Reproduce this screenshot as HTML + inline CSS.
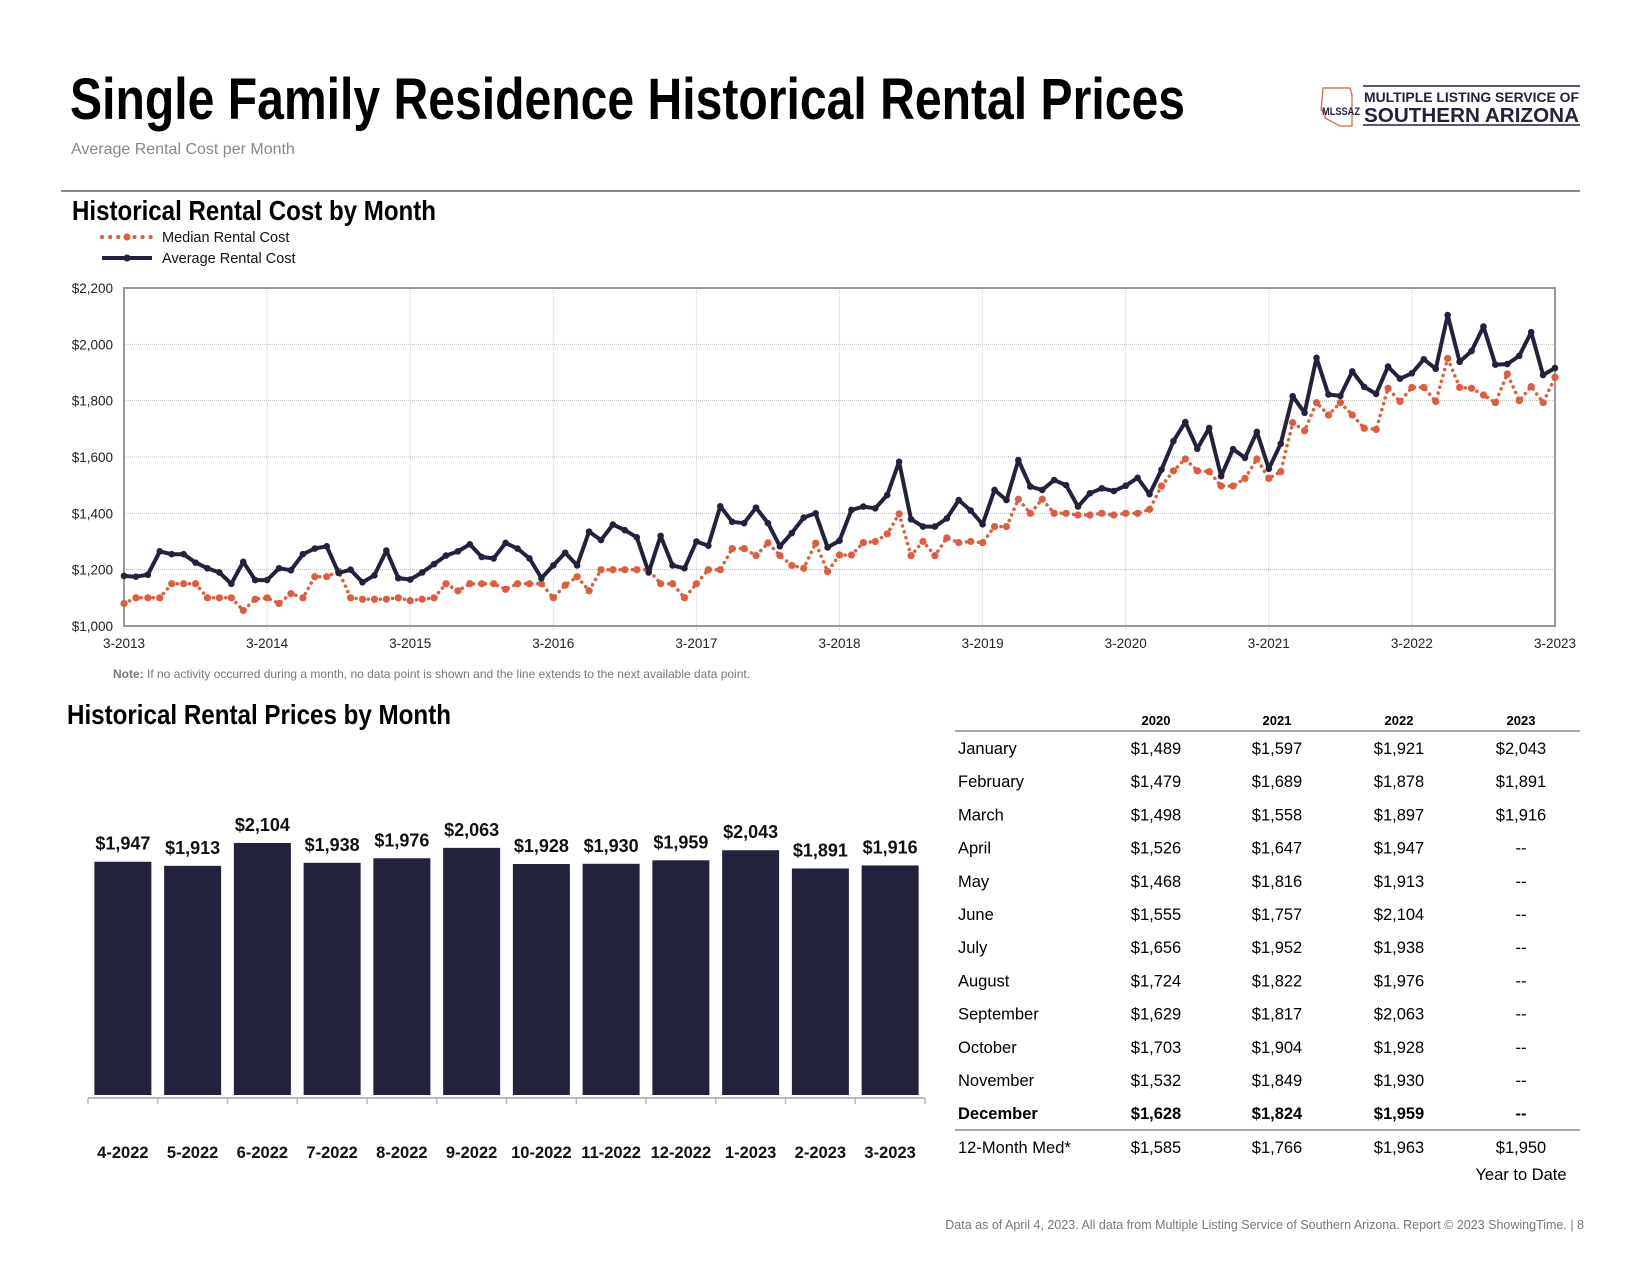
<!DOCTYPE html>
<html><head><meta charset="utf-8"><style>
html,body{margin:0;padding:0;background:#fff;}
svg{display:block;font-family:"Liberation Sans",sans-serif;}
</style></head><body>
<svg id="page" width="1650" height="1275" viewBox="0 0 1650 1275" xmlns="http://www.w3.org/2000/svg">
<text x="70" y="119" font-size="58" font-weight="bold" textLength="1115" lengthAdjust="spacingAndGlyphs" fill="#000">Single Family Residence Historical Rental Prices</text>
<text x="71" y="154" font-size="16" fill="#888">Average Rental Cost per Month</text>
<g>
<path d="M1323 88 L1350 88 L1352 95 L1352 126 L1340 126 L1325 118 L1325 113 L1321 110 L1322 100 Z" fill="none" stroke="#d4603f" stroke-width="1.2"/>
<text x="1322" y="115" font-size="11" font-weight="bold" fill="#22223d" textLength="38" lengthAdjust="spacingAndGlyphs">MLSSAZ</text>
<line x1="1363" y1="86" x2="1580" y2="86" stroke="#22223d" stroke-width="1.5"/>
<line x1="1363" y1="125" x2="1580" y2="125" stroke="#22223d" stroke-width="1.5"/>
<text x="1364" y="102" font-size="14" font-weight="bold" fill="#22223d" textLength="215" lengthAdjust="spacingAndGlyphs">MULTIPLE LISTING SERVICE OF</text>
<text x="1364" y="122" font-size="20" font-weight="bold" fill="#22223d" textLength="215" lengthAdjust="spacingAndGlyphs">SOUTHERN ARIZONA</text>
</g>
<line x1="61" y1="191" x2="1580" y2="191" stroke="#888" stroke-width="2"/>
<text x="72" y="220" font-size="28" font-weight="bold" textLength="364" lengthAdjust="spacingAndGlyphs">Historical Rental Cost by Month</text>
<g>
<g>
<line x1="102" y1="237" x2="152" y2="237" stroke="#e05c3e" stroke-width="4" stroke-dasharray="0.1 8" stroke-linecap="round"/>
<circle cx="127" cy="237" r="3.5" fill="#e05c3e"/>
<text x="162" y="242" font-size="14.5" fill="#111">Median Rental Cost</text></g>
<g>
<line x1="102" y1="258" x2="152" y2="258" stroke="#22223d" stroke-width="4"/>
<circle cx="127" cy="258" r="3.5" fill="#22223d"/>
<text x="162" y="263" font-size="14.5" fill="#111">Average Rental Cost</text></g>
</g>
<g id="linechart"></g>
<text x="113" y="678" font-size="12" fill="#777"><tspan font-weight="bold">Note:</tspan> If no activity occurred during a month, no data point is shown and the line extends to the next available data point.</text>
<text x="67" y="724" font-size="28" font-weight="bold" textLength="384" lengthAdjust="spacingAndGlyphs">Historical Rental Prices by Month</text>
<g id="barchart"></g>
<g id="table"></g>
<text x="1584" y="1229" font-size="12.5" fill="#777" text-anchor="end">Data as of April 4, 2023. All data from Multiple Listing Service of Southern Arizona. Report © 2023 ShowingTime.  |  8</text>
</svg>
<script>
const avgValues=[1178,1175,1182,1265,1255,1255,1225,1205,1190,1150,1228,1163,
1163,1205,1198,1255,1275,1283,1188,1200,1155,1180,1268,1170,
1165,1190,1220,1250,1265,1290,1245,1240,1295,1275,1240,1170,
1215,1260,1215,1335,1305,1360,1340,1315,1190,1320,1215,1205,
1300,1285,1425,1370,1365,1420,1365,1283,1330,1385,1400,1279,
1303,1412,1424,1418,1465,1583,1379,1353,1353,1382,1447,1410,
1361,1483,1447,1589,1495,1483,1518,1500,1424,1471,
1489,1479,1498,1526,1468,1555,1656,1724,1629,1703,1532,1628,
1597,1689,1558,1647,1816,1757,1952,1822,1817,1904,1849,1824,
1921,1878,1897,1947,1913,2104,1938,1976,2063,1928,1930,1959,
2043,1891,1916];
const medianValues=[1080,1100,1100,1100,1150,1150,1150,1100,1100,1100,1055,1095,
1100,1080,1115,1100,1175,1175,1195,1100,1095,1095,1095,1100,
1090,1095,1100,1150,1125,1150,1150,1150,1130,1150,1150,1150,
1100,1145,1175,1125,1200,1200,1200,1200,1200,1150,1150,1100,
1150,1200,1200,1275,1275,1250,1295,1250,1215,1205,1294,1193,
1252,1252,1296,1300,1327,1398,1250,1300,1250,1313,1296,1300,
1296,1353,1353,1450,1400,1450,1400,1400,1394,1394,1400,1394,
1400,1400,1414,1497,1551,1593,1551,1548,1497,1497,1524,1593,
1524,1548,1722,1693,1793,1749,1793,1749,1702,1698,1844,1797,
1847,1847,1797,1950,1847,1844,1820,1793,1895,1800,1850,1793,1883];
const yTicks=[1000,1200,1400,1600,1800,2000,2200];
const yTickLabels=["$1,000","$1,200","$1,400","$1,600","$1,800","$2,000","$2,200"];
const xTickLabels=["3-2013","3-2014","3-2015","3-2016","3-2017","3-2018","3-2019","3-2020","3-2021","3-2022","3-2023"];

const barCategories=["4-2022","5-2022","6-2022","7-2022","8-2022","9-2022","10-2022","11-2022","12-2022","1-2023","2-2023","3-2023"];
const barValues=[1947,1913,2104,1938,1976,2063,1928,1930,1959,2043,1891,1916];
const barLabels=["$1,947","$1,913","$2,104","$1,938","$1,976","$2,063","$1,928","$1,930","$1,959","$2,043","$1,891","$1,916"];

const tableYears=["2020","2021","2022","2023"];
const tableMonths=["January","February","March","April","May","June","July","August","September","October","November","December"];
const table2020=["$1,489","$1,479","$1,498","$1,526","$1,468","$1,555","$1,656","$1,724","$1,629","$1,703","$1,532","$1,628"];
const table2021=["$1,597","$1,689","$1,558","$1,647","$1,816","$1,757","$1,952","$1,822","$1,817","$1,904","$1,849","$1,824"];
const table2022=["$1,921","$1,878","$1,897","$1,947","$1,913","$2,104","$1,938","$1,976","$2,063","$1,928","$1,930","$1,959"];
const table2023=["$2,043","$1,891","$1,916","--","--","--","--","--","--","--","--","--"];
const tableMedians=["$1,585","$1,766","$1,963","$1,950"];

const NS="http://www.w3.org/2000/svg";
function mk(tag,attrs,parent,txt){const e=document.createElementNS(NS,tag);for(const k in attrs)e.setAttribute(k,attrs[k]);if(txt!==undefined)e.textContent=txt;parent.appendChild(e);return e;}

// line chart
(function(){
const g=document.getElementById('linechart');
const L=124,R=1555,T=288,B=626,n=avgValues.length;
const xs=i=>L+(R-L)*i/(n-1);
const ys=v=>B-(v-1000)/(2200-1000)*(B-T);
yTicks.forEach((v,k)=>{
 const gl=mk('line',{x1:L,x2:R,y1:ys(v),y2:ys(v),stroke:'#bbb','stroke-width':1,'stroke-dasharray':'1 1'},g);
 
 
 const t=mk('text',{x:L-11,y:ys(v)+5,'font-size':13.5,'text-anchor':'end',fill:'#222'},g,yTickLabels[k]);
 
 
});
xTickLabels.forEach((lab,k)=>{
 const x=xs(k*12);
 const gl=mk('line',{x1:x,x2:x,y1:T,y2:B+5,stroke:'#ccc','stroke-width':1,'stroke-dasharray':'1 1'},g);
 
 
 const t=mk('text',{x:x,y:B+22,'font-size':13.5,'text-anchor':'middle',fill:'#222'},g,lab);
 
 
});
const frame=mk('rect',{x:L,y:T,width:R-L,height:B-T,fill:'none',stroke:'#999','stroke-width':2},g);


let dm='';medianValues.forEach((v,i)=>{dm+=(i?'L':'M')+xs(i).toFixed(1)+' '+ys(v).toFixed(1)+' ';});
const ml=mk('path',{d:dm,fill:'none',stroke:'#e05c3e','stroke-width':3.5,'stroke-dasharray':'0.1 6','stroke-linecap':'round'},g);


medianValues.forEach((v,i)=>{const c=mk('circle',{cx:xs(i),cy:ys(v),r:3.6,fill:'#e05c3e'},g);
 
 });
let da='';avgValues.forEach((v,i)=>{da+=(i?'L':'M')+xs(i).toFixed(1)+' '+ys(v).toFixed(1)+' ';});
const al=mk('path',{d:da,fill:'none',stroke:'#22223d','stroke-width':4,'stroke-linejoin':'round'},g);


avgValues.forEach((v,i)=>{const c=mk('circle',{cx:xs(i),cy:ys(v),r:3.3,fill:'#22223d'},g);
 
 });
})();

// bar chart
(function(){
const g=document.getElementById('barchart');
const base=1095,scale=0.1198,x0=88,pitch=69.75,bw=57;
const ys=v=>base-v*scale;
barValues.forEach((v,i)=>{
 const cx=x0+pitch*(i+0.5);
 const r=mk('rect',{x:cx-bw/2,y:ys(v),width:bw,height:base-ys(v),fill:'#22223d'},g);
 
 
 const t=mk('text',{x:cx,y:ys(v)-12,'font-size':18,'font-weight':'bold','text-anchor':'middle',fill:'#111'},g,barLabels[i]);
 
 
 const c=mk('text',{x:cx,y:1158,'font-size':16.5,'font-weight':'bold','text-anchor':'middle',fill:'#111'},g,barCategories[i]);
 
 
});
const ax=mk('line',{x1:x0,x2:x0+pitch*barCategories.length,y1:base+3,y2:base+3,stroke:'#bbb','stroke-width':2},g);


for(let i=0;i<=barCategories.length;i++){const tk=mk('line',{x1:x0+pitch*i,x2:x0+pitch*i,y1:base+3,y2:base+9,stroke:'#bbb','stroke-width':1.5},g);
 
 }
})();

// table
(function(){
const g=document.getElementById('table');
const cols=[1156,1277,1399,1521],lx=958,y0=754,rh=33.2;
tableYears.forEach((y,k)=>{const t=mk('text',{x:cols[k],y:725,'font-size':13,'font-weight':'bold','text-anchor':'middle'},g,y);
 
 });
mk('line',{x1:955,x2:1580,y1:731,y2:731,stroke:'#888','stroke-width':1.5},g);
const cols4=[table2020,table2021,table2022,table2023];
tableMonths.forEach((m,i)=>{
 const y=y0+rh*i;const fw=(i===11)?'bold':'normal';
 const t=mk('text',{x:lx,y:y,'font-size':16.5,'font-weight':fw},g,m);
 
 
 cols4.forEach((arr,k)=>{const c=mk('text',{x:cols[k],y:y,'font-size':16.5,'font-weight':fw,'text-anchor':'middle'},g,arr[i]);
  
  });
});
mk('line',{x1:955,x2:1580,y1:1130,y2:1130,stroke:'#888','stroke-width':1.5},g);
const ml=mk('text',{x:lx,y:1153,'font-size':16.5},g,'12-Month Med*');


tableMedians.forEach((v,k)=>{const c=mk('text',{x:cols[k],y:1153,'font-size':16.5,'text-anchor':'middle'},g,v);
 
 });
const yt=mk('text',{x:1521,y:1180,'font-size':16.5,'text-anchor':'middle'},g,'Year to Date');


})();
</script>
</body></html>
